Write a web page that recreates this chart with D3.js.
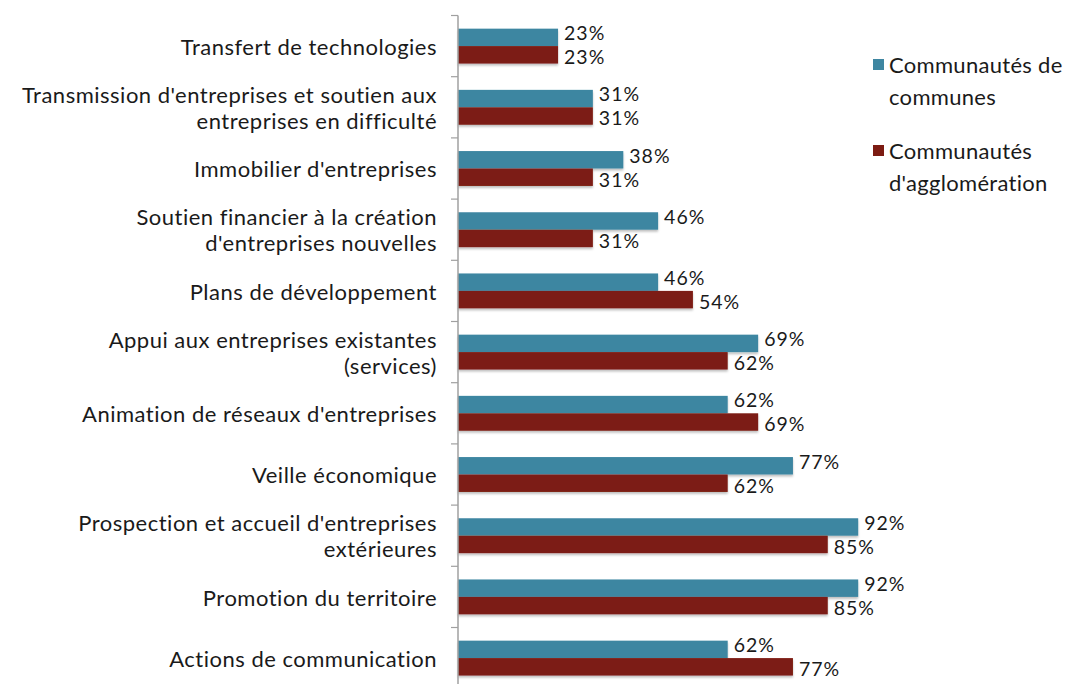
<!DOCTYPE html>
<html>
<head>
<meta charset="utf-8">
<script src="https://cdn.jsdelivr.net/npm/d3@7"></script>
<style>
  html, body { margin: 0; padding: 0; background: #fff; }
  svg { display: block; }
  text { font-family: "Lato", "Open Sans", sans-serif; fill: #1a1a1a; }
</style>
</head>
<body>
<svg id="chart" width="1074" height="684"></svg>
<script>
// Categories (top to bottom); multi-line labels split with "\n"
const categories = [
  "Transfert de technologies",
  "Transmission d'entreprises et soutien aux\nentreprises en difficulté",
  "Immobilier d'entreprises",
  "Soutien financier à la création\nd'entreprises nouvelles",
  "Plans de développement",
  "Appui aux entreprises existantes\n(services)",
  "Animation de réseaux d'entreprises",
  "Veille économique",
  "Prospection et accueil d'entreprises\nextérieures",
  "Promotion du territoire",
  "Actions de communication"
];
const communesValues = [23, 31, 38, 46, 46, 69, 62, 77, 92, 92, 62];
const agglomerationValues = [23, 31, 31, 31, 54, 62, 69, 62, 85, 85, 77];
const seriesNames = ["Communautés de\ncommunes", "Communautés\nd'agglomération"];
const seriesColors = ["#3e86a1", "#7c1b12"];

const svg = d3.select("#chart");
const axisX = 458;
const step = 61.2;
const plotTop = 15.5;

const x = d3.scaleLinear().domain([0, 100]).range([axisX, axisX + 435]);
const y = d3.scaleBand()
  .domain(categories)
  .range([plotTop, plotTop + step * categories.length])
  .paddingInner(0.43)
  .paddingOuter(0.215);
const sub = d3.scaleBand().domain([0, 1]).range([0, y.bandwidth()]);

const defs = svg.append("defs");
const f = defs.append("filter").attr("id", "shadow").attr("x", "-5%").attr("y", "-20%").attr("width", "110%").attr("height", "160%");
f.append("feDropShadow").attr("dx", 0).attr("dy", 2).attr("stdDeviation", 1.2).attr("flood-color", "#000").attr("flood-opacity", 0.25);

const rows = categories.map((c, i) => ({ cat: c, vals: [communesValues[i], agglomerationValues[i]] }));

// Bars
const groups = svg.append("g").selectAll("g").data(rows).join("g")
  .attr("transform", d => `translate(0,${y(d.cat)})`);

groups.selectAll("rect").data(d => d.vals.map((v, k) => ({ v, k }))).join("rect")
  .attr("x", x(0))
  .attr("y", d => sub(d.k))
  .attr("width", d => x(d.v) - x(0))
  .attr("height", sub.bandwidth())
  .attr("fill", d => seriesColors[d.k])
  .attr("filter", "url(#shadow)");

// Value labels: the upper series sits a little higher, the lower one a little lower
groups.selectAll("text.val").data(d => d.vals.map((v, k) => ({ v, k }))).join("text")
  .attr("class", "val")
  .attr("x", d => x(d.v) + 6)
  .attr("y", d => sub(d.k) + sub.bandwidth() / 2 + (d.k === 0 ? -4 : 2.5))
  .attr("dy", "0.35em")
  .attr("font-size", 19.5)
  .attr("letter-spacing", 1)
  .text(d => d.v + "%");

// Vertical axis with ticks at category boundaries
const axisG = svg.append("g");
const boundaries = d3.range(categories.length + 1).map(i => plotTop + i * step);
axisG.append("line")
  .attr("x1", axisX).attr("x2", axisX)
  .attr("y1", plotTop).attr("y2", 684)
  .attr("stroke", "#a0a0a0").attr("stroke-width", 1.5);
axisG.selectAll("line.tick").data(boundaries).join("line")
  .attr("class", "tick")
  .attr("x1", axisX - 7).attr("x2", axisX)
  .attr("y1", d => d).attr("y2", d => d)
  .attr("stroke", "#a0a0a0").attr("stroke-width", 1.2);

// Category labels
const lineH = 26;
svg.append("g").selectAll("text").data(categories).join("text")
  .attr("text-anchor", "end")
  .attr("font-size", 22)
  .attr("letter-spacing", 0.5)
  .each(function(d) {
    const lines = d.split("\n");
    const t = d3.select(this);
    const cy = y(d) + y.bandwidth() / 2 + 1;
    lines.forEach((ln, j) => {
      t.append("tspan")
        .attr("x", 437)
        .attr("y", cy + (j - (lines.length - 1) / 2) * lineH)
        .attr("dy", "0.35em")
        .text(ln);
    });
  });

// Legend
const legend = svg.append("g");
const legendTops = [59, 145];
seriesNames.forEach((name, k) => {
  legend.append("rect")
    .attr("x", 873).attr("y", legendTops[k])
    .attr("width", 11).attr("height", 11)
    .attr("fill", seriesColors[k]);
  const t = legend.append("text").attr("font-size", 22).attr("letter-spacing", 0.3);
  name.split("\n").forEach((ln, j) => {
    t.append("tspan")
      .attr("x", 889)
      .attr("y", legendTops[k] + 14 + j * 32)
      .text(ln);
  });
});
</script>
</body>
</html>
